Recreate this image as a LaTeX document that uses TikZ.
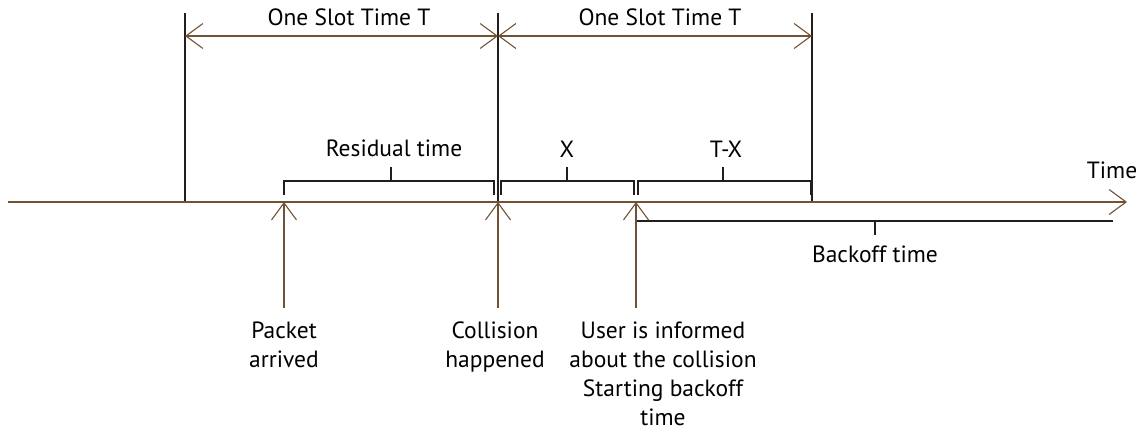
\documentclass[tikz,border=0pt]{standalone}
\usepackage{fontspec}
\setmainfont{PT Sans}
\usetikzlibrary{arrows.meta}
\begin{document}
\begin{tikzpicture}[x=1pt,y=-1pt,
  axis/.style={draw=brownline, line width=1.3pt},
  guide/.style={draw=darkline, line width=1.3pt},
  brace/.style={draw=darkline, line width=1.3pt},
  barb/.tip={Straight Barb[length=17pt,width=25pt,line width=1.1pt]},
  opentip/.style={-barb},
  twotip/.style={barb-barb},
  lbl/.style={font=\fontsize{23.5}{28.8}\selectfont, text=black, inner sep=0pt, align=center}
]
\definecolor{brownline}{RGB}{112,82,52}
\definecolor{darkline}{RGB}{34,30,30}
\useasboundingbox (0,0) rectangle (1143,436);
% time instants on the axis
\coordinate (s0) at (185,202);
\coordinate (s1) at (498,202);
\coordinate (s2) at (812,202);
\coordinate (pa) at (284,202);
\coordinate (ui) at (636,202);
% slot boundaries
\draw[guide] (185,13) -- (s0);
\draw[guide] (498,13) -- (s1);
\draw[guide] (812,13) -- (s2);
% slot length arrows
\coordinate (t0) at (185,36);
\coordinate (t1) at (498,36);
\coordinate (t2) at (812,36);
\draw[axis, twotip] (t0) -- (t1);
\draw[axis, twotip] (t1) -- (t2);
\node[lbl] (slotA) at (349,17) {One Slot Time T};
\node[lbl] (slotB) at (660,17) {One Slot Time T};
% time axis
\coordinate (a0) at (8,202);
\coordinate (a1) at (1127,202);
\draw[axis, opentip] (a0) -- (a1);
\node[lbl] (time) at (1112,170) {Time};
% braces above the axis
\draw[brace] (284,195) -- (284,181) -- (494,181) -- (494,195);
\draw[brace] (391,181) -- (391,167);
\node[lbl] (res) at (394,148) {Residual time};
\draw[brace] (501,195) -- (501,181) -- (634,181) -- (634,195);
\draw[brace] (567,181) -- (567,167);
\node[lbl] (x) at (567,149) {X};
\draw[brace] (638,195) -- (638,181) -- (811,181) -- (811,195);
\draw[brace] (723,181) -- (723,167);
\node[lbl] (tx) at (726,149) {T-X};
% backoff brace below the axis
\draw[brace] (636,221) -- (1113,221);
\draw[brace] (875,221) -- (875,235);
\node[lbl] (bo) at (875,254) {Backoff time};
% event arrows
\coordinate (pab) at (284,308);
\coordinate (s1b) at (498,308);
\coordinate (uib) at (636,308);
\draw[axis, opentip] (pab) -- (pa);
\draw[axis, opentip] (s1b) -- (s1);
\draw[axis, opentip] (uib) -- (ui);
\node[lbl, anchor=north] (packet) at (284,322) {Packet\\arrived};
\node[lbl, anchor=north] (coll) at (495,322) {Collision\\happened};
\node[lbl, anchor=north] (user) at (663,322) {User is informed\\about the collision\\Starting backoff\\time};
\end{tikzpicture}
\end{document}
